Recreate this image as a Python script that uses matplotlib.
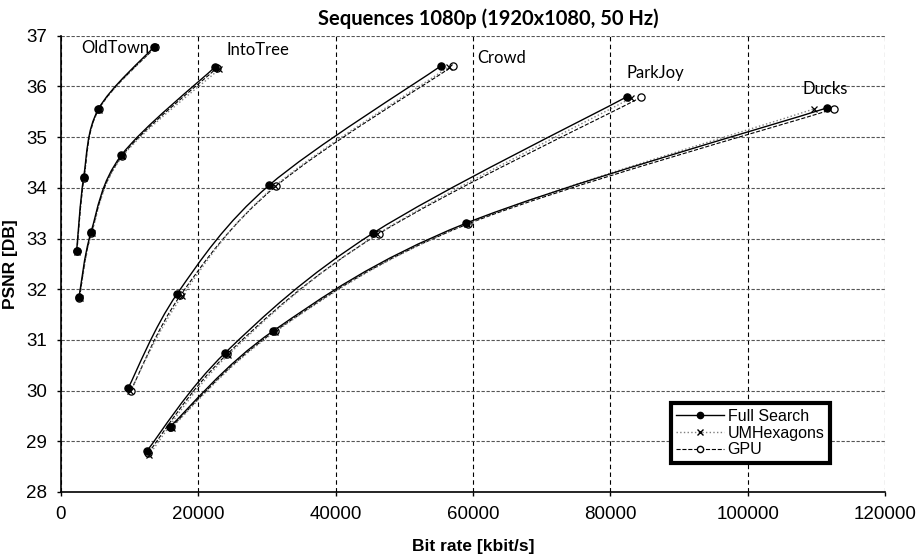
import matplotlib
matplotlib.use('Agg')
import matplotlib.pyplot as plt
from matplotlib.path import Path
from matplotlib.patches import PathPatch
from matplotlib.lines import Line2D
import numpy as np

# Bit rate [kbit/s] and PSNR [dB] per sequence
sequences = ['OldTown', 'IntoTree', 'Crowd', 'ParkJoy', 'Ducks']

full_rate = {
    'OldTown': [2280, 3300, 5430, 13530],
    'IntoTree': [2620, 4360, 8770, 22400],
    'Crowd': [9790, 16920, 30300, 55370],
    'ParkJoy': [12460, 23950, 45480, 82430],
    'Ducks': [15900, 30940, 58950, 111600],
}
full_psnr = {
    'OldTown': [32.76, 34.21, 35.55, 36.78],
    'IntoTree': [31.84, 33.12, 34.64, 36.38],
    'Crowd': [30.05, 31.91, 34.05, 36.41],
    'ParkJoy': [28.80, 30.75, 33.11, 35.80],
    'Ducks': [29.29, 31.18, 33.30, 35.58],
}
umh_rate = {
    'OldTown': [2300, 3330, 5480, 13650],
    'IntoTree': [2700, 4450, 8950, 23030],
    'Crowd': [10100, 17650, 31100, 56500],
    'ParkJoy': [12800, 24330, 46000, 83000],
    'Ducks': [16100, 31200, 59100, 109700],
}
umh_psnr = {
    'OldTown': [32.74, 34.20, 35.54, 36.77],
    'IntoTree': [31.82, 33.10, 34.62, 36.34],
    'Crowd': [30.00, 31.87, 34.03, 36.39],
    'ParkJoy': [28.73, 30.70, 33.08, 35.77],
    'Ducks': [29.27, 31.16, 33.29, 35.56],
}
gpu_rate = {
    'OldTown': [2320, 3350, 5500, 13700],
    'IntoTree': [2680, 4420, 8900, 22730],
    'Crowd': [10180, 17400, 31270, 57020],
    'ParkJoy': [12700, 24200, 46250, 84510],
    'Ducks': [16050, 31150, 59300, 112600],
}
gpu_psnr = {
    'OldTown': [32.75, 34.19, 35.55, 36.77],
    'IntoTree': [31.83, 33.11, 34.63, 36.37],
    'Crowd': [30.00, 31.88, 34.03, 36.40],
    'ParkJoy': [28.77, 30.72, 33.09, 35.79],
    'Ducks': [29.28, 31.17, 33.29, 35.56],
}

# where the sequence names sit
label_pos = {
    'OldTown': (3000, 36.76),
    'IntoTree': (24100, 36.72),
    'Crowd': (60600, 36.57),
    'ParkJoy': (82300, 36.27),
    'Ducks': (108000, 35.94),
}

x_ticks = [0, 20000, 40000, 60000, 80000, 100000, 120000]
y_ticks = [28, 29, 30, 31, 32, 33, 34, 35, 36, 37]

FontSize = 13.5
LabelFont = 'Lato'


def smooth_path(xs, ys):
    # Excel style smoothed line: bezier segments through the points
    pts = np.column_stack([xs, ys]).astype(float)
    n = len(pts)
    verts = [pts[0]]
    codes = [Path.MOVETO]
    for i in range(n - 1):
        p_prev = pts[i - 1] if i > 0 else pts[i]
        p_next = pts[i + 2] if i + 2 < n else pts[i + 1]
        c1 = pts[i] + (pts[i + 1] - p_prev) / 6.0
        c2 = pts[i + 1] - (p_next - pts[i]) / 6.0
        verts += [c1, c2, pts[i + 1]]
        codes += [Path.CURVE4] * 3
    return Path(verts, codes)


styles = [
    # rate, psnr, line colour, linestyle, marker, marker face, line width
    (full_rate, full_psnr, 'black', '-', 'o', 'black', 1.0),
    (umh_rate, umh_psnr, '#7f7f7f', ':', 'x', 'black', 1.0),
    (gpu_rate, gpu_psnr, 'black', '--', 'o', 'white', 0.8),
]

fig, ax = plt.subplots(figsize=(9.24, 5.59), dpi=100)
fig.subplots_adjust(left=0.066, right=0.958, top=0.936, bottom=0.12)

for rate, psnr, col, ls, mk, mfc, lw in reversed(styles):
    for seq in sequences:
        patch = PathPatch(smooth_path(rate[seq], psnr[seq]), facecolor='none',
                          edgecolor=col, linestyle=ls, linewidth=lw, zorder=3)
        ax.add_patch(patch)
        ms = 4.5 if mk == 'x' else 5.2
        ax.plot(rate[seq], psnr[seq], linestyle='none', marker=mk, color='black',
                markerfacecolor=mfc, markersize=ms, markeredgewidth=0.9, zorder=4)

for seq in sequences:
    x, y = label_pos[seq]
    ax.text(x, y, seq, fontsize=12, family=LabelFont, ha='left', va='center', zorder=5)

ax.set_xlim(0, 120000)
ax.set_ylim(28, 37)
ax.set_xticks(x_ticks)
ax.set_yticks(y_ticks)
ax.set_xticklabels([str(t) for t in x_ticks], fontsize=FontSize, family='Liberation Sans')
ax.set_yticklabels([str(t) for t in y_ticks], fontsize=FontSize, family='Liberation Sans')
ax.tick_params(axis='both', direction='out', length=3, width=1, pad=7)

ax.grid(True, axis='x', color='black', linestyle=(0, (4, 3)), linewidth=0.8)
ax.grid(True, axis='y', color='#555555', linestyle=(0, (3, 1.5)), linewidth=0.8)
ax.set_axisbelow(True)
for side in ['top', 'right']:
    ax.spines[side].set_visible(False)
for side in ['left', 'bottom']:
    ax.spines[side].set_linewidth(1.2)

# title sits a bit right of the plot centre in the original
ax.set_title('Sequences 1080p (1920x1080, 50 Hz)', fontsize=14.5, fontweight='bold',
             family=LabelFont, pad=8, x=0.519)
ax.set_xlabel('Bit rate [kbit/s]', fontsize=12.5, fontweight='bold', family='Liberation Sans', labelpad=12)
ax.set_ylabel('PSNR [DB]', fontsize=12.5, fontweight='bold', family='Liberation Sans', labelpad=6)

handles = [
    Line2D([], [], color='black', linestyle='-', marker='o', markersize=4.5, linewidth=1.0),
    Line2D([], [], color='#7f7f7f', linestyle=':', marker='x', markersize=4.5,
           markeredgecolor='black', linewidth=1.0),
    Line2D([], [], color='black', linestyle='--', marker='o', markersize=4.5,
           markerfacecolor='white', markeredgecolor='black', linewidth=0.8),
]
leg = ax.legend(handles, ['Full Search', 'UMHexagons', 'GPU'], loc='lower left',
                bbox_to_anchor=(0.74, 0.064), fancybox=False, framealpha=1,
                prop={'family': 'Liberation Sans', 'size': 11.5}, handlelength=3.0,
                handletextpad=0.2, borderpad=0.35, labelspacing=0.1, borderaxespad=0)
leg.get_frame().set_edgecolor('black')
leg.get_frame().set_linewidth(3)

fig.savefig('out.png', dpi=100)
